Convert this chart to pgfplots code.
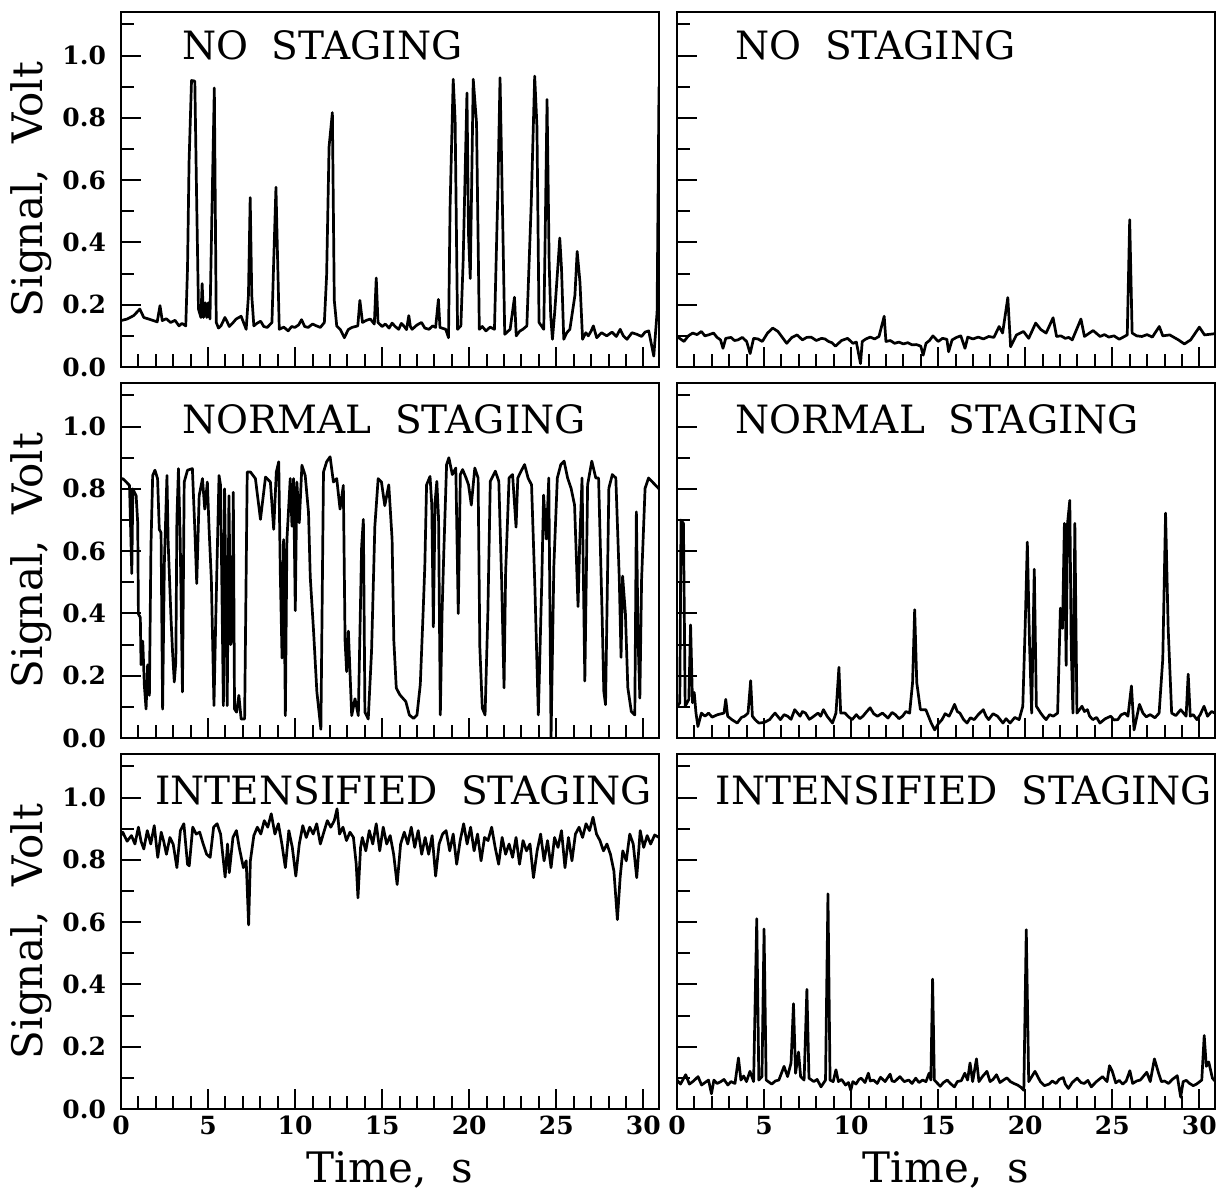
\documentclass[border=0pt]{standalone}
\usepackage{fontspec}
\setmainfont{DejaVu Serif}
\usepackage{pgfplots}
\pgfplotsset{compat=1.18}
\usepgfplotslibrary{groupplots}

\pgfplotsset{
  panel/.style={
    scale only axis, width=269pt, height=177.5pt,
    xmin=0, xmax=30.9, ymin=0, ymax=1.14,
    xtick={0,5,10,15,20,25,30}, minor x tick num=4,
    ytick={0,0.2,0.4,0.6,0.8,1.0},
    minor ytick={0.1,0.3,0.5,0.7,0.9,1.1},
    tick pos=left, tick align=inside,
    major tick length=10pt, minor tick length=6.5pt,
    every tick/.style={black, line width=1pt},
    axis line style={line width=1.4pt},
    xticklabels={}, yticklabels={},
    /pgf/number format/assume math mode=true,
    ticklabel style={font=\fontsize{12.5}{13}\selectfont\bfseries},
    yticklabel style={xshift=-4pt},
    ylabel style={at={(rel axis cs:-0.127,0.5)}, anchor=south, inner sep=0pt,
      font=\fontsize{21}{23}\selectfont},
    xlabel style={at={(rel axis cs:0.5,-0.118)}, anchor=north, inner sep=0pt,
      font=\fontsize{21}{23}\selectfont},
  },
  trace/.style={black, line width=1.35pt, line join=round, mark=none},
}
\tikzset{ttl/.style={anchor=north west, inner sep=0pt, font=\fontsize{19.5}{20}\selectfont}}

\begin{document}
\begin{tikzpicture}
\begin{groupplot}[group style={group size=2 by 3, horizontal sep=9pt, vertical sep=8pt, group name=group}, panel]

% ---- row 1, left: no staging
\nextgroupplot[ylabel={Signal,\hspace{0.6em}Volt}, yticklabels={0.0,0.2,0.4,0.6,0.8,1.0}]
\addplot[trace] coordinates {
(0,0.149)(0.35,0.154)(0.73,0.165)(1.08,0.186)(1.31,0.159)(1.70,0.152)(2.08,0.145)(2.24,0.197)
(2.37,0.149)(2.6,0.155)(2.85,0.143)(3.1,0.15)(3.33,0.132)(3.5,0.14)(3.72,0.132)(3.82,0.317)(3.91,0.66)(4.05,0.92)(4.24,0.918)
(4.34,0.555)(4.45,0.186)(4.59,0.159)(4.66,0.268)(4.74,0.159)(4.84,0.206)(4.93,0.159)(5.01,0.206)
(5.11,0.154)(5.22,0.49)(5.36,0.896)(5.47,0.143)(5.6,0.125)(5.74,0.132)(5.97,0.159)(6.1,0.145)(6.22,0.13)(6.4,0.14)(6.61,0.154)
(6.90,0.163)(7.19,0.121)(7.32,0.23)(7.42,0.544)(7.51,0.23)(7.63,0.132)(7.8,0.14)(8.02,0.147)(8.2,0.13)(8.40,0.127)
(8.67,0.143)(8.77,0.338)(8.90,0.577)(8.98,0.38)(9.09,0.121)(9.35,0.128)(9.60,0.116)(9.80,0.13)(9.98,0.127)
(10.2,0.135)(10.37,0.152)(10.55,0.13)(10.75,0.127)(11.0,0.138)(11.23,0.132)(11.45,0.127)
(11.68,0.143)(11.81,0.295)(11.95,0.707)(12.14,0.817)(12.25,0.214)
(12.39,0.132)(12.6,0.12)(12.83,0.094)(13.05,0.12)(13.26,0.127)(13.60,0.132)(13.72,0.214)(13.87,0.143)(14.1,0.15)(14.32,0.154)
(14.55,0.138)(14.66,0.286)(14.76,0.143)(15.0,0.13)(15.18,0.138)(15.4,0.125)(15.57,0.141)(15.75,0.13)
(15.95,0.121)(16.1,0.14)(16.24,0.132)(16.4,0.12)(16.53,0.165)(16.62,0.13)(16.72,0.121)(17.0,0.135)
(17.26,0.143)(17.45,0.125)(17.69,0.121)(17.9,0.132)(18.07,0.127)(18.23,0.217)(18.32,0.127)
(18.65,0.121)(18.81,0.094)(18.90,0.512)(19.08,0.924)(19.19,0.794)(19.33,0.121)(19.52,0.132)
(19.65,0.338)(19.87,0.88)(19.96,0.425)(20.06,0.284)(20.23,0.924)(20.42,0.783)(20.58,0.121)
(20.75,0.13)(20.96,0.116)(21.2,0.128)(21.45,0.121)(21.64,0.555)(21.77,0.929)(21.93,0.447)(22.04,0.105)(22.35,0.121)
(22.60,0.224)(22.70,0.10)(22.9,0.115)(23.08,0.121)(23.31,0.132)(23.56,0.522)(23.76,0.934)(23.89,0.772)
(24.01,0.143)(24.28,0.121)(24.37,0.447)(24.47,0.859)(24.59,0.338)(24.68,0.165)(24.78,0.089)
(24.91,0.176)(25.11,0.338)(25.20,0.414)(25.30,0.317)(25.43,0.089)(25.6,0.11)(25.78,0.121)(26.07,0.23)
(26.20,0.371)(26.36,0.273)(26.51,0.089)(26.7,0.11)(26.84,0.10)(27.0,0.115)(27.13,0.132)(27.32,0.094)
(27.6,0.11)(27.9,0.10)(28.2,0.112)(28.45,0.098)(28.67,0.121)(28.85,0.10)(29.06,0.089)(29.35,0.11)
(29.63,0.105)(29.9,0.098)(30.1,0.112)(30.31,0.116)(30.60,0.035)(30.79,0.176)(30.90,0.90)
};
\node[ttl] at (rel axis cs:0.113,0.949) {NO\hspace{0.6em}STAGING};

% ---- row 1, right: no staging
\nextgroupplot
\addplot[trace] coordinates {
(0,0.098)(0.2,0.09)(0.4,0.082)(0.65,0.1)(0.9,0.109)(1.15,0.104)(1.4,0.114)(1.6,0.1)(1.8,0.103)(2.1,0.109)(2.3,0.095)(2.5,0.087)(2.64,0.06)(2.8,0.092)
(3.1,0.095)(3.3,0.085)(3.5,0.087)(3.75,0.095)(4.0,0.082)(4.2,0.043)(4.4,0.092)(4.65,0.09)(4.9,0.082)(5.2,0.109)(5.5,0.125)(5.8,0.114)(6.05,0.095)(6.3,0.076)
(6.6,0.095)(6.9,0.103)(7.2,0.087)(7.45,0.095)(7.7,0.096)(8.0,0.085)(8.3,0.092)(8.5,0.09)(8.7,0.082)(8.9,0.078)(9.1,0.067)(9.45,0.085)(9.8,0.092)(10.1,0.076)
(10.3,0.08)(10.54,0.011)(10.64,0.082)(10.85,0.09)(11.1,0.096)(11.35,0.09)(11.6,0.098)(11.9,0.163)(12.0,0.082)(12.25,0.085)(12.5,0.076)(12.75,0.08)(13.0,0.074)
(13.25,0.078)(13.5,0.071)(13.75,0.072)(14.0,0.067)(14.14,0.038)(14.3,0.076)(14.5,0.085)(14.7,0.10)(15.0,0.082)(15.25,0.092)(15.5,0.089)(15.6,0.049)
(15.8,0.087)(16.05,0.095)(16.3,0.10)(16.54,0.06)(16.7,0.096)(17.0,0.09)(17.3,0.096)(17.6,0.09)(17.9,0.098)(18.2,0.095)(18.5,0.13)(18.7,0.109)
(19.0,0.223)(19.16,0.065)(19.5,0.103)(19.9,0.114)(20.2,0.092)(20.6,0.141)(20.9,0.12)(21.2,0.109)
(21.6,0.158)(21.8,0.098)(22.05,0.1)(22.3,0.092)(22.5,0.095)(22.7,0.087)(23.2,0.154)(23.4,0.098)(23.9,0.117)(24.3,0.098)
(24.55,0.104)(24.8,0.096)(25.1,0.1)(25.4,0.089)(25.86,0.103)(26.0,0.473)(26.14,0.109)(26.4,0.1)(26.7,0.098)(27.0,0.104)(27.3,0.096)(27.7,0.13)
(27.9,0.10)(28.3,0.103)(28.55,0.095)(28.8,0.087)(29.14,0.074)(29.5,0.087)(30.0,0.128)(30.3,0.103)(30.9,0.107)
};
\node[ttl] at (rel axis cs:0.108,0.949) {NO\hspace{0.6em}STAGING};

% ---- row 2, left: normal staging
\nextgroupplot[ylabel={Signal,\hspace{0.6em}Volt}, yticklabels={0.0,0.2,0.4,0.6,0.8,1.0}]
\addplot[trace] coordinates {
(0,0.83)(0.10,0.833)(0.30,0.822)(0.49,0.811)(0.62,0.528)(0.68,0.80)(0.87,0.778)(0.96,0.691)(1.00,0.398)
(1.11,0.387)(1.15,0.235)(1.25,0.311)(1.34,0.17)(1.44,0.093)(1.53,0.235)(1.63,0.137)(1.72,0.615)
(1.82,0.843)(1.95,0.86)(2.10,0.833)(2.20,0.67)(2.30,0.659)(2.39,0.093)(2.49,0.561)(2.64,0.843)
(2.71,0.626)(2.87,0.387)(2.96,0.278)(3.06,0.18)(3.15,0.246)(3.21,0.702)(3.30,0.865)(3.40,0.637)
(3.53,0.148)(3.63,0.822)(3.82,0.86)(4.10,0.865)(4.24,0.67)(4.35,0.496)(4.49,0.778)(4.68,0.833)
(4.81,0.735)(4.96,0.822)(5.06,0.67)(5.19,0.507)(5.34,0.104)(5.44,0.376)(5.63,0.843)(5.72,0.811)
(5.88,0.104)(5.95,0.80)(6.10,0.104)(6.20,0.778)(6.30,0.30)(6.39,0.322)(6.45,0.789)(6.52,0.093)
(6.64,0.083)(6.77,0.137)(6.90,0.061)(7.10,0.061)(7.25,0.854)(7.44,0.854)(7.72,0.833)(8.01,0.702)
(8.30,0.838)(8.58,0.822)(8.77,0.67)(8.92,0.854)(9.06,0.887)(9.15,0.528)(9.25,0.257)(9.34,0.637)
(9.44,0.072)(9.53,0.637)(9.72,0.833)(9.82,0.68)(9.91,0.833)(10.01,0.409)(10.10,0.822)(10.24,0.691)
(10.39,0.876)(10.58,0.843)(10.77,0.724)(10.87,0.517)(11.06,0.343)(11.25,0.148)(11.48,0.028)
(11.63,0.854)(11.81,0.887)(12.01,0.903)(12.20,0.822)(12.39,0.833)(12.58,0.735)(12.77,0.811)
(12.87,0.311)(12.96,0.213)(13.06,0.343)(13.25,0.072)(13.44,0.126)(13.63,0.072)(13.82,0.615)
(13.92,0.702)(14.01,0.083)(14.20,0.061)(14.39,0.278)(14.58,0.68)(14.77,0.833)(14.96,0.822)
(15.15,0.746)(15.38,0.813)(15.57,0.639)(15.67,0.313)(15.81,0.161)(16.01,0.139)(16.36,0.117)
(16.56,0.074)(16.80,0.063)(17.00,0.074)(17.19,0.172)(17.35,0.40)(17.45,0.552)(17.55,0.813)
(17.75,0.84)(17.85,0.748)(17.94,0.357)(18.04,0.759)(18.14,0.824)(18.24,0.704)(18.34,0.074)
(18.44,0.40)(18.54,0.596)(18.70,0.878)(18.83,0.90)(19.03,0.846)(19.23,0.867)(19.37,0.40)
(19.49,0.846)(19.62,0.862)(19.82,0.835)(19.96,0.813)(20.12,0.748)(20.32,0.867)(20.51,0.835)
(20.61,0.291)(20.75,0.096)(20.91,0.074)(21.07,0.40)(21.21,0.824)(21.50,0.857)(21.70,0.824)
(21.86,0.509)(22.00,0.161)(22.09,0.53)(22.29,0.835)(22.49,0.846)(22.69,0.677)(22.79,0.835)
(22.98,0.857)(23.18,0.878)(23.38,0.835)(23.58,0.813)(23.77,0.487)(23.97,0.074)(24.17,0.509)
(24.27,0.78)(24.43,0.639)(24.57,0.835)(24.70,0.003)(24.86,0.552)(25.06,0.835)(25.26,0.878)
(25.45,0.889)(25.65,0.835)(25.85,0.802)(26.05,0.748)(26.25,0.422)(26.34,0.617)(26.48,0.835)
(26.64,0.183)(26.80,0.813)(27.04,0.889)(27.27,0.835)(27.43,0.835)(27.63,0.40)(27.73,0.15)
(27.83,0.107)(28.02,0.802)(28.22,0.846)(28.42,0.835)(28.62,0.509)(28.72,0.259)(28.81,0.52)
(28.97,0.40)(29.11,0.161)(29.31,0.085)(29.51,0.074)(29.60,0.726)(29.70,0.313)(29.80,0.128)
(29.90,0.509)(30.10,0.802)(30.30,0.835)(30.49,0.824)(30.9,0.80)
};
\node[ttl] at (rel axis cs:0.113,0.94) {NORMAL\hspace{0.6em}STAGING};

% ---- row 2, right: normal staging
\nextgroupplot
\addplot[trace] coordinates {
(0,0.10)(0.16,0.113)(0.23,0.70)(0.37,0.689)(0.47,0.102)(0.68,0.124)(0.78,0.363)(0.89,0.113)
(0.99,0.146)(1.09,0.08)(1.20,0.037)(1.40,0.08)(1.61,0.07)(1.81,0.08)(2.02,0.067)(2.33,0.075)
(2.70,0.08)(2.80,0.124)(2.91,0.07)(3.15,0.059)(3.46,0.048)(3.7,0.066)(3.88,0.07)(4.08,0.08)(4.23,0.184)
(4.33,0.07)(4.5,0.058)(4.70,0.048)(5.01,0.05)(5.32,0.059)(5.5,0.072)(5.63,0.08)(5.94,0.059)(6.15,0.075)(6.35,0.07)(6.55,0.06)(6.76,0.091)
(7.07,0.07)(7.2,0.085)(7.38,0.08)(7.6,0.06)(7.79,0.067)(8.10,0.08)(8.25,0.07)(8.41,0.091)(8.62,0.07)(8.93,0.048)(9.13,0.08)
(9.30,0.227)(9.40,0.08)(9.65,0.08)(9.85,0.068)(10.06,0.059)(10.3,0.075)(10.5,0.062)(10.68,0.07)(10.9,0.085)
(11.09,0.097)(11.3,0.078)(11.51,0.07)(11.8,0.08)(12.12,0.064)(12.35,0.082)(12.54,0.075)(12.75,0.062)
(12.95,0.07)(13.15,0.085)(13.36,0.08)(13.53,0.178)(13.65,0.412)(13.77,0.178)(13.98,0.091)
(14.29,0.091)(14.60,0.048)(14.80,0.026)(15.0,0.045)(15.22,0.059)(15.4,0.078)(15.63,0.07)(15.8,0.09)
(15.94,0.108)(16.1,0.085)(16.25,0.08)(16.45,0.06)(16.66,0.048)(16.85,0.065)(17.07,0.059)(17.3,0.075)
(17.59,0.091)(17.75,0.07)(17.90,0.059)(18.15,0.078)(18.41,0.07)(18.55,0.06)(18.72,0.048)(18.9,0.062)
(19.13,0.048)(19.4,0.066)(19.65,0.059)(19.86,0.102)(20.00,0.363)(20.12,0.629)(20.25,0.298)(20.37,0.08)(20.52,0.542)
(20.64,0.102)(20.89,0.08)(21.05,0.068)(21.20,0.059)(21.4,0.075)(21.61,0.07)(21.86,0.08)(22.02,0.417)(22.14,0.352)
(22.25,0.689)(22.35,0.233)(22.43,0.689)(22.56,0.763)(22.64,0.298)(22.74,0.08)(22.85,0.689)
(22.97,0.08)(23.26,0.102)(23.4,0.085)(23.57,0.091)(23.7,0.07)(23.88,0.059)(24.1,0.066)(24.29,0.048)
(24.6,0.062)(24.91,0.07)(25.1,0.058)(25.32,0.059)(25.5,0.074)(25.73,0.08)(25.9,0.07)
(26.10,0.167)(26.25,0.026)(26.56,0.108)(26.76,0.08)(26.95,0.068)(27.18,0.075)(27.45,0.065)(27.69,0.08)
(27.90,0.254)(28.06,0.722)(28.21,0.352)(28.41,0.08)(28.65,0.072)(28.93,0.091)(29.24,0.07)(29.36,0.205)
(29.48,0.07)(29.65,0.075)(29.86,0.059)(30.05,0.075)(30.27,0.102)(30.47,0.07)(30.7,0.085)(30.9,0.08)
};
\node[ttl] at (rel axis cs:0.108,0.94) {NORMAL\hspace{0.6em}STAGING};

% ---- row 3, left: intensified staging
\nextgroupplot[ylabel={Signal,\hspace{0.6em}Volt}, yticklabels={0.0,0.2,0.4,0.6,0.8,1.0},
  xlabel={Time,\hspace{0.6em}s}, xticklabels={0,5,10,15,20,25,30}]
\addplot[trace] coordinates {
(0,0.88)(0.10,0.889)(0.35,0.86)(0.60,0.878)(0.80,0.851)(1.00,0.905)(1.15,0.86)(1.31,0.835)(1.51,0.894)(1.71,0.851)
(1.91,0.91)(2.11,0.808)(2.31,0.889)(2.45,0.86)(2.61,0.818)(2.81,0.872)(3.0,0.85)(3.21,0.775)(3.41,0.894)(3.61,0.916)
(3.82,0.786)(3.92,0.781)(4.12,0.905)(4.32,0.883)(4.52,0.889)(4.72,0.851)(4.92,0.818)(5.12,0.808)
(5.32,0.905)(5.52,0.916)(5.72,0.883)(5.82,0.829)(5.98,0.745)(6.12,0.851)(6.22,0.759)(6.43,0.872)
(6.63,0.894)(6.79,0.84)(7.03,0.775)(7.19,0.797)(7.33,0.591)(7.43,0.797)(7.63,0.878)(7.83,0.905)
(8.03,0.883)(8.23,0.926)(8.43,0.905)(8.63,0.948)(8.84,0.883)(9.04,0.916)(9.24,0.851)(9.44,0.775)
(9.64,0.894)(9.84,0.84)(10.04,0.748)(10.24,0.851)(10.44,0.91)(10.64,0.872)(10.84,0.905)
(11.04,0.883)(11.24,0.916)(11.45,0.851)(11.65,0.889)(11.85,0.926)(12.05,0.905)(12.25,0.926)
(12.41,0.964)(12.55,0.883)(12.75,0.905)(12.95,0.862)(13.15,0.889)(13.35,0.872)(13.51,0.786)
(13.61,0.678)(13.76,0.84)(13.86,0.872)(14.06,0.829)(14.26,0.894)(14.46,0.851)(14.66,0.916)
(14.86,0.829)(15.06,0.905)(15.26,0.851)(15.46,0.878)(15.66,0.818)(15.86,0.721)(16.06,0.851)
(16.27,0.889)(16.47,0.851)(16.67,0.905)(16.87,0.84)(17.07,0.894)(17.27,0.818)(17.47,0.872)
(17.67,0.818)(17.87,0.878)(18.07,0.748)(18.27,0.851)(18.47,0.883)(18.67,0.894)(18.88,0.829)
(19.08,0.883)(19.28,0.786)(19.48,0.862)(19.68,0.916)(19.88,0.851)(20.08,0.905)(20.28,0.829)
(20.48,0.883)(20.68,0.797)(20.88,0.872)(21.08,0.862)(21.29,0.905)(21.49,0.84)(21.69,0.786)
(21.89,0.872)(22.09,0.818)(22.29,0.851)(22.49,0.808)(22.69,0.872)(22.89,0.786)(23.09,0.862)
(23.29,0.829)(23.49,0.851)(23.69,0.743)(23.90,0.829)(24.10,0.883)(24.30,0.797)(24.50,0.862)
(24.70,0.775)(24.90,0.872)(25.10,0.84)(25.30,0.894)(25.50,0.775)(25.70,0.872)(25.90,0.797)
(26.10,0.883)(26.31,0.905)(26.51,0.872)(26.71,0.916)(26.91,0.894)(27.11,0.937)(27.31,0.883)
(27.51,0.862)(27.71,0.829)(27.91,0.851)(28.11,0.818)(28.31,0.764)(28.51,0.608)(28.67,0.745)
(28.82,0.829)(29.02,0.797)(29.22,0.883)(29.42,0.851)(29.62,0.743)(29.82,0.894)(30.02,0.84)
(30.22,0.878)(30.42,0.851)(30.65,0.88)(30.9,0.872)
};
\node[ttl] at (rel axis cs:0.063,0.94) {INTENSIFIED\hspace{0.6em}STAGING};

% ---- row 3, right: intensified staging
\nextgroupplot[xlabel={Time,\hspace{0.6em}s}, xticklabels={0,5,10,15,20,25,30}]
\addplot[trace] coordinates {
(0,0.093)(0.2,0.08)(0.5,0.11)(0.71,0.08)(0.95,0.09)(1.21,0.104)(1.41,0.077)(1.81,0.093)(1.98,0.049)(2.12,0.093)
(2.3,0.082)(2.52,0.088)(2.7,0.095)(2.92,0.077)(3.1,0.088)(3.33,0.082)(3.53,0.164)(3.67,0.093)(3.83,0.106)(3.99,0.088)(4.19,0.121)
(4.40,0.088)(4.58,0.611)(4.70,0.093)(4.88,0.104)(5.00,0.578)(5.12,0.093)(5.44,0.08)(5.65,0.09)(5.85,0.093)
(6.15,0.137)(6.35,0.104)(6.55,0.148)(6.69,0.338)(6.81,0.115)(6.98,0.183)(7.10,0.104)(7.30,0.093)
(7.46,0.384)(7.58,0.099)(7.86,0.088)(8.05,0.095)(8.27,0.071)(8.53,0.093)(8.67,0.691)(8.79,0.093)(8.97,0.088)
(9.13,0.126)(9.27,0.088)(9.45,0.095)(9.68,0.077)(9.85,0.085)(9.98,0.06)(10.1,0.088)(10.28,0.08)(10.45,0.095)
(10.58,0.099)(10.8,0.085)(10.99,0.115)(11.1,0.09)(11.29,0.093)(11.5,0.082)(11.69,0.102)(11.95,0.088)
(12.24,0.112)(12.35,0.09)(12.50,0.088)(12.65,0.096)(12.80,0.104)(13.05,0.088)(13.31,0.093)(13.5,0.082)
(13.71,0.099)(13.9,0.085)(14.11,0.093)(14.3,0.088)(14.48,0.115)(14.58,0.093)(14.68,0.417)(14.78,0.093)
(15.12,0.073)(15.3,0.085)(15.52,0.093)(15.7,0.082)(15.93,0.071)(16.1,0.088)
(16.33,0.091)(16.53,0.115)(16.69,0.093)(16.83,0.148)(16.98,0.088)(17.20,0.161)(17.34,0.088)
(17.54,0.104)(17.80,0.121)(17.98,0.088)(18.15,0.095)(18.35,0.11)(18.55,0.085)(18.75,0.093)(18.95,0.1)
(19.15,0.088)(19.35,0.082)(19.56,0.077)(19.75,0.07)
(19.92,0.06)(20.06,0.576)(20.20,0.088)(20.56,0.121)(20.87,0.088)(21.1,0.075)(21.37,0.08)(21.55,0.09)
(21.77,0.082)(21.95,0.095)(22.18,0.101)(22.3,0.08)(22.48,0.066)(22.7,0.085)(22.98,0.099)(23.2,0.085)
(23.39,0.082)(23.6,0.092)(23.79,0.071)(23.95,0.08)(24.09,0.088)(24.44,0.104)
(24.70,0.088)(24.84,0.139)(25.00,0.121)(25.20,0.084)(25.40,0.092)(25.60,0.08)(25.8,0.09)(26.01,0.123)(26.17,0.082)
(26.4,0.09)(26.61,0.093)(26.98,0.118)(27.18,0.088)(27.42,0.161)(27.66,0.115)(27.82,0.088)(28.0,0.09)(28.23,0.082)
(28.45,0.095)(28.73,0.107)(28.93,0.038)(29.07,0.088)(29.25,0.092)(29.44,0.082)(29.65,0.075)(29.84,0.08)(30.14,0.093)(30.28,0.236)
(30.40,0.137)(30.54,0.151)(30.75,0.099)(30.9,0.09)
};
\node[ttl] at (rel axis cs:0.071,0.94) {INTENSIFIED\hspace{0.6em}STAGING};

\end{groupplot}
\path ([xshift=-60.5pt,yshift=6pt]group c1r1.north west) rectangle ([xshift=4.5pt,yshift=-41.5pt]group c2r3.south east);
\end{tikzpicture}
\end{document}
